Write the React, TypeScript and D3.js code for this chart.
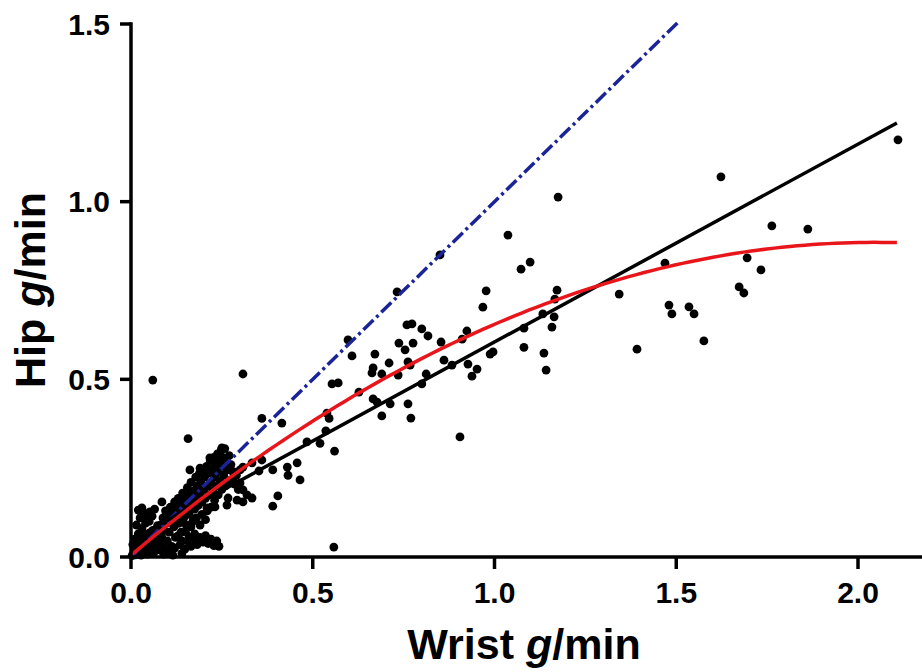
import React from "react";
import * as d3 from "d3";

// ---- data (Wrist g/min, Hip g/min) ----
const clusterPoints: [number, number][] = [
  [0.003,0.004],[0.008,0.015],[0.012,0.006],[0.015,0.028],[0.018,0.012],[0.022,0.04],[0.025,0.02],[0.028,0.005],
  [0.03,0.032],[0.033,0.052],[0.036,0.015],[0.04,0.028],[0.042,0.045],[0.045,0.008],[0.048,0.062],[0.05,0.035],
  [0.053,0.02],[0.056,0.05],[0.06,0.075],[0.062,0.01],[0.065,0.03],[0.068,0.06],[0.07,0.045],[0.073,0.088],
  [0.075,0.02],[0.078,0.07],[0.08,0.035],[0.01,0.05],[0.02,0.065],[0.005,0.035],[0.03,0.08],[0.04,0.095],
  [0.05,0.1],[0.025,0.11],[0.015,0.09],[0.058,0.115],[0.035,0.125],[0.02,0.132],[0.03,0.138],[0.052,0.127],
  [0.039,0.113],[0.065,0.135],[0.085,0.155],
  [0.082,0.09],[0.085,0.055],[0.088,0.11],[0.09,0.075],[0.092,0.025],[0.095,0.13],[0.098,0.095],[0.1,0.045],
  [0.102,0.115],[0.105,0.07],[0.108,0.14],[0.11,0.1],[0.112,0.03],[0.115,0.125],[0.118,0.085],[0.12,0.155],
  [0.122,0.055],[0.125,0.11],[0.128,0.14],[0.13,0.165],[0.132,0.095],[0.135,0.125],[0.138,0.07],[0.14,0.15],
  [0.142,0.18],[0.145,0.11],[0.148,0.135],[0.15,0.165],[0.152,0.09],[0.155,0.195],[0.158,0.145],[0.16,0.12],
  [0.162,0.175],[0.165,0.21],[0.168,0.155],[0.17,0.1],[0.172,0.185],[0.175,0.135],[0.178,0.225],[0.18,0.165],
  [0.182,0.2],[0.185,0.145],[0.188,0.235],[0.19,0.18],[0.192,0.21],[0.195,0.155],[0.198,0.245],[0.2,0.19],
  [0.202,0.225],[0.205,0.165],[0.208,0.255],[0.21,0.2],[0.212,0.235],[0.215,0.175],[0.218,0.27],[0.22,0.21],
  [0.222,0.245],[0.225,0.185],[0.228,0.28],[0.23,0.225],[0.232,0.26],[0.235,0.2],[0.238,0.29],[0.24,0.24],
  [0.242,0.27],[0.245,0.215],[0.248,0.3],[0.25,0.255],[0.252,0.28],[0.255,0.23],[0.258,0.305],[0.26,0.265],
  [0.265,0.245],[0.27,0.285],[0.275,0.26],[0.28,0.24],
  [0.13,0.06],[0.14,0.045],[0.15,0.07],[0.16,0.055],[0.165,0.085],[0.175,0.065],[0.18,0.11],[0.19,0.09],
  [0.195,0.12],[0.205,0.105],[0.21,0.13],[0.22,0.14],[0.23,0.16],[0.24,0.175],[0.25,0.19],[0.26,0.2],
  [0.27,0.215],[0.285,0.205],[0.29,0.23],[0.3,0.245],[0.295,0.19],
  [0.12,0.025],[0.135,0.035],[0.148,0.022],[0.155,0.045],[0.165,0.03],[0.175,0.05],[0.182,0.035],[0.19,0.055],
  [0.198,0.042],[0.205,0.06],[0.212,0.038],[0.22,0.05],[0.228,0.032],[0.236,0.045],[0.242,0.03],[0.105,0.015],
  [0.09,0.008],[0.115,0.005],[0.14,0.01],
];

const lowMidPoints: [number, number][] = [
  [0.06,0.498],[0.308,0.515],[0.558,0.028],[0.157,0.333],[0.36,0.39],[0.415,0.377],[0.465,0.217],[0.39,0.143],
  [0.404,0.172],[0.43,0.253],[0.432,0.23],[0.457,0.265],[0.39,0.245],[0.36,0.273],[0.333,0.265],[0.308,0.253],
  [0.286,0.239],[0.281,0.222],[0.308,0.189],[0.267,0.166],[0.231,0.141],[0.209,0.138],[0.319,0.175],[0.333,0.166],
  [0.308,0.155],[0.352,0.242],[0.3,0.208],[0.292,0.16],[0.264,0.146],[0.25,0.307],[0.217,0.279],[0.19,0.25],
  [0.162,0.245],
];

const midPoints: [number, number][] = [
  [1.037,0.906],[1.098,0.83],[1.073,0.81],[0.977,0.749],[0.968,0.703],[1.172,0.751],[1.166,0.726],[1.164,0.676],
  [1.158,0.647],[1.133,0.684],[1.081,0.644],[1.081,0.59],[1.136,0.574],[1.142,0.526],[0.996,0.577],[0.988,0.571],
  [0.924,0.636],[0.911,0.613],[0.85,0.85],[0.732,0.746],[0.597,0.611],[0.608,0.566],[0.759,0.653],[0.773,0.656],
  [0.8,0.642],[0.817,0.622],[0.853,0.605],[0.737,0.602],[0.776,0.602],[0.754,0.583],[0.762,0.549],[0.768,0.54],
  [0.71,0.546],[0.671,0.571],[0.666,0.532],[0.663,0.518],[0.69,0.515],[0.735,0.512],[0.812,0.515],[0.861,0.554],
  [0.883,0.54],[0.927,0.543],[0.952,0.529],[0.938,0.509],[0.8,0.487],[0.666,0.445],[0.677,0.436],[0.713,0.431],
  [0.762,0.431],[0.69,0.397],[0.77,0.391],[0.627,0.464],[0.539,0.405],[0.545,0.39],[0.536,0.355],[0.484,0.324],
  [0.52,0.32],[0.56,0.298],[0.905,0.338],[0.553,0.487],[0.57,0.49],
];

const highPoints: [number, number][] = [
  [2.11,1.174],[1.623,1.07],[1.763,0.932],[1.862,0.923],[1.469,0.827],[1.695,0.842],[1.733,0.808],[1.673,0.76],
  [1.686,0.743],[1.343,0.74],[1.48,0.709],[1.488,0.684],[1.535,0.704],[1.549,0.684],[1.576,0.608],[1.392,0.585],
  [1.175,1.013],
];

const xTicks = [0, 0.5, 1.0, 1.5, 2.0];
const yTicks = [0, 0.5, 1.0, 1.5];

// fitted lines
const linearFit = { intercept: 0.048, slope: 0.557, xMax: 2.107 };
const quadFit = { c0: 0.005, c1: 0.86, c2: -0.21, xMax: 2.107 };
const identityLine = { xMax: 1.51 };

export default function App() {
  const W = 922, H = 672;
  const x = d3.scaleLinear().domain([0, 2]).range([131, 858]);
  const y = d3.scaleLinear().domain([0, 1.5]).range([557, 24]);

  const allPoints = [...clusterPoints, ...lowMidPoints, ...midPoints, ...highPoints];
  const line = d3.line<[number, number]>().x(d => x(d[0])).y(d => y(d[1]));

  const linPts: [number, number][] = [
    [0, linearFit.intercept],
    [linearFit.xMax, linearFit.intercept + linearFit.slope * linearFit.xMax],
  ];
  const quadPts: [number, number][] = d3.range(0, quadFit.xMax + 1e-9, quadFit.xMax / 100).map(
    v => [v, quadFit.c0 + quadFit.c1 * v + quadFit.c2 * v * v] as [number, number]
  );
  const idPts: [number, number][] = [[0, 0], [identityLine.xMax, identityLine.xMax]];

  const font = "'Liberation Sans', Arial, Helvetica, sans-serif";

  return (
    <svg width={W} height={H} style={{ position: "absolute", left: 0, top: 0, background: "#fff" }}>
      <rect width={W} height={H} fill="#fff" />
      {/* points */}
      <g fill="#000">
        {allPoints.map((p, i) => (
          <circle key={i} cx={x(p[0])} cy={y(p[1])} r={4.4} />
        ))}
      </g>
      {/* lines */}
      <path d={line(idPts) || ""} stroke="#1a2496" strokeWidth={3.5} fill="none" strokeDasharray="14,4,3,4" />
      <path d={line(linPts) || ""} stroke="#000" strokeWidth={3.5} fill="none" />
      <path d={line(quadPts) || ""} stroke="#e8161b" strokeWidth={3.5} fill="none" />

      {/* axes */}
      <g stroke="#000" strokeWidth={3.5}>
        <line x1={131} y1={y(1.5) - 1.75} x2={131} y2={557} />
        <line x1={129.25} y1={557} x2={922} y2={557} />
        {yTicks.map(t => (
          <line key={"yt" + t} x1={120} x2={131} y1={y(t)} y2={y(t)} />
        ))}
        {xTicks.map(t => (
          <line key={"xt" + t} x1={x(t)} x2={x(t)} y1={557} y2={569} />
        ))}
      </g>
      <g fontFamily={font} fontWeight="bold" fontSize={30} fill="#000">
        {yTicks.map(t => (
          <text key={"yl" + t} x={110} y={y(t)} dy="0.36em" textAnchor="end">
            {d3.format(".1f")(t)}
          </text>
        ))}
        {xTicks.map(t => (
          <text key={"xl" + t} x={x(t)} y={603} textAnchor="middle">
            {d3.format(".1f")(t)}
          </text>
        ))}
      </g>
      <text x={524} y={659} textAnchor="middle" fontFamily={font} fontWeight="bold" fontSize={43}>
        Wrist <tspan fontStyle="italic">g</tspan>/min
      </text>
      <text
        transform="translate(45,290) rotate(-90)"
        textAnchor="middle"
        fontFamily={font}
        fontWeight="bold"
        fontSize={43}
      >
        Hip <tspan fontStyle="italic">g</tspan>/min
      </text>
    </svg>
  );
}
